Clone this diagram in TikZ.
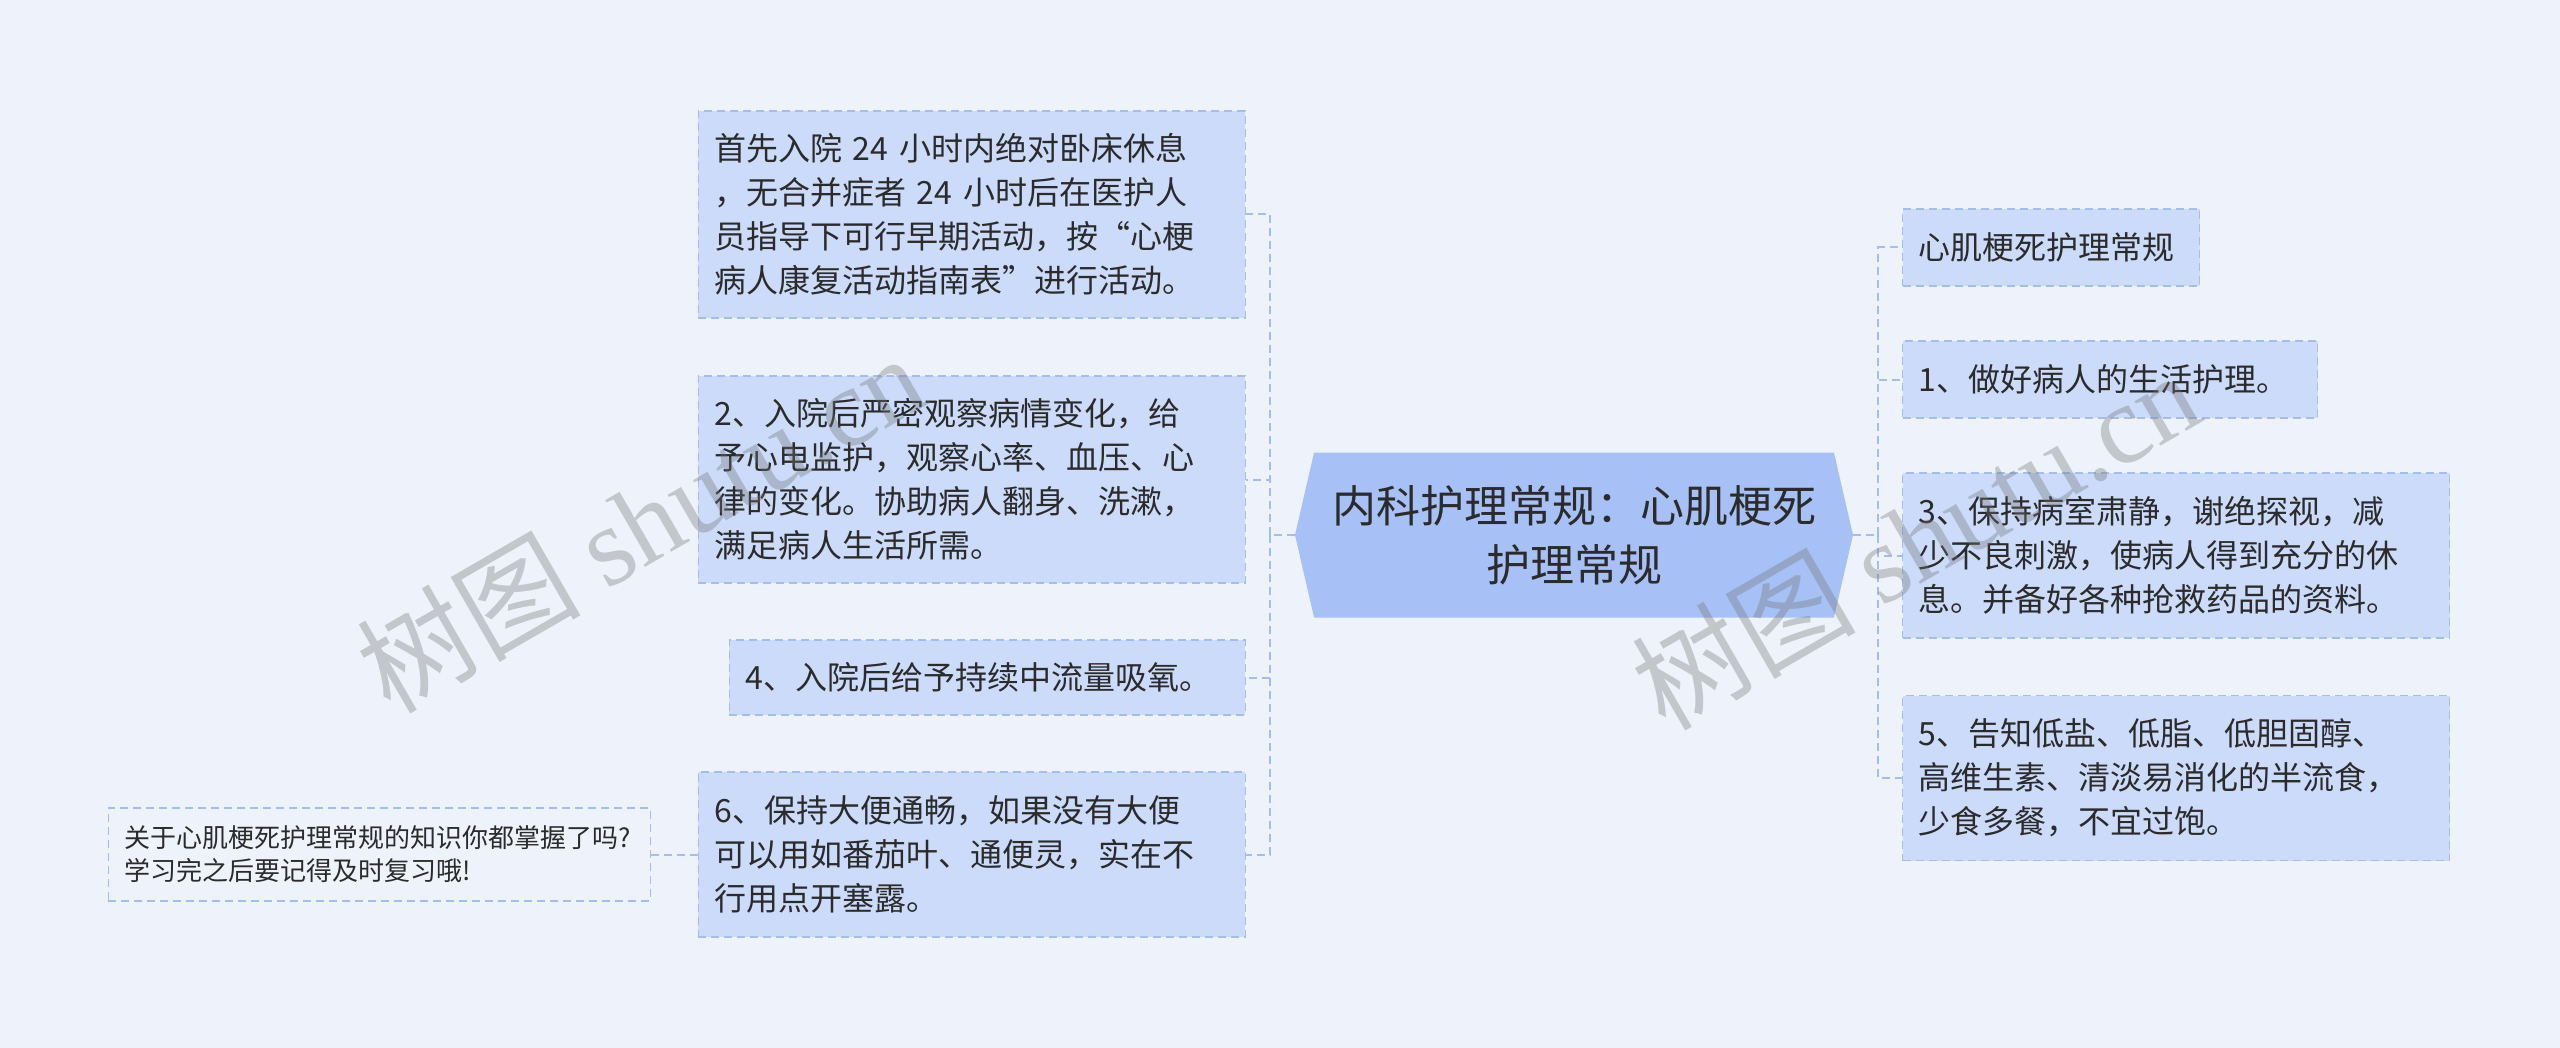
\documentclass[tikz,border=0pt]{standalone}
\usepackage{fontspec}
\setmainfont{Noto Sans CJK SC}
\newfontfamily\wmfont{Liberation Serif}
\usetikzlibrary{shapes.symbols}
\definecolor{bgcol}{HTML}{EEF3FB}
\definecolor{boxcol}{HTML}{CCDBFA}
\definecolor{maincol}{HTML}{A7C1F6}
\definecolor{linecol}{HTML}{A4BDEF}
\definecolor{txtcol}{HTML}{2B2B2B}
\begin{document}
\begin{tikzpicture}[x=0.5pt,y=-0.5pt,
  box/.style={draw=linecol,dash pattern=on 4pt off 2.5pt,line width=0.7pt,fill=boxcol,text=txtcol,
    font=\fontsize{16}{22}\selectfont,align=left,inner xsep=8pt,inner ysep=0pt},
  mainbox/.style={signal,signal to=west and east,signal pointer angle=154,fill=maincol,text=txtcol,
    font=\fontsize{22}{29.5}\selectfont,align=center,minimum width=279pt,minimum height=82.5pt,inner sep=0pt},
  tipbox/.style={box,fill=none,font=\fontsize{13}{16.5}\selectfont},
  link/.style={draw=linecol,line width=1pt,dash pattern=on 4pt off 2.5pt},
  wm/.style={text=black!55,opacity=0.35,font=\fontsize{56}{60}\selectfont,rotate=30}]
\fill[bgcol] (0,0) rectangle (2560,1048);
\useasboundingbox (0,0) rectangle (2560,1048);
% centre
\node[mainbox] (main) at (1574,535) {内科护理常规：心肌梗死\\护理常规};
% left branch
\node[box,anchor=east,text width=257.5pt,minimum height=103.5pt] (l1) at (1246,214.5)
  {首先入院 24 小时内绝对卧床休息\\，无合并症者 24 小时后在医护人\\员指导下可行早期活动，按“心梗\\病人康复活动指南表”进行活动。};
\node[box,anchor=east,text width=257.5pt,minimum height=103.5pt] (l2) at (1246,479.5)
  {2、入院后严密观察病情变化，给\\予心电监护，观察心率、血压、心\\律的变化。协助病人翻身、洗漱，\\满足病人生活所需。};
\node[box,anchor=east,text width=242pt,minimum height=37.5pt] (l3) at (1246,677.5)
  {4、入院后给予持续中流量吸氧。};
\node[box,anchor=east,text width=257.5pt,minimum height=82.5pt] (l4) at (1246,854.5)
  {6、保持大便通畅，如果没有大便\\可以用如番茄叶、通便灵，实在不\\行用点开塞露。};
\node[tipbox,anchor=east,text width=255pt,minimum height=46.5pt] (tip) at (651,854.5)
  {关于心肌梗死护理常规的知识你都掌握了吗?\\学习完之后要记得及时复习哦!};
% right branch
\node[box,anchor=west,text width=132.5pt,minimum height=38.5pt] (r1) at (1902,247.5)
  {心肌梗死护理常规};
\node[box,anchor=west,text width=191.5pt,minimum height=38.5pt] (r2) at (1902,379.5)
  {1、做好病人的生活护理。};
\node[box,anchor=west,text width=257.5pt,minimum height=82.5pt] (r3) at (1902,555.5)
  {3、保持病室肃静，谢绝探视，减\\少不良刺激，使病人得到充分的休\\息。并备好各种抢救药品的资料。};
\node[box,anchor=west,text width=257.5pt,minimum height=82.5pt] (r4) at (1902,778)
  {5、告知低盐、低脂、低胆固醇、\\高维生素、清淡易消化的半流食，\\少食多餐，不宜过饱。};
% connectors
\coordinate (lj) at (1270,535);
\coordinate (rj) at (1878,535);
\draw[link] (main.west) -- (lj);
\draw[link] (main.east) -- (rj);
\foreach \n in {l1,l2,l3,l4} \draw[link] (lj) |- (\n.east);
\foreach \n in {r1,r2,r3,r4} \draw[link] (rj) |- (\n.west);
\draw[link] (tip.east) -- (l4.west);
% watermark
\node[wm] (wm1) at (640,522) {树图 {\wmfont shutu.cn}};
\node[wm] (wm2) at (1915,539) {树图 {\wmfont shutu.cn}};
\end{tikzpicture}
\end{document}
